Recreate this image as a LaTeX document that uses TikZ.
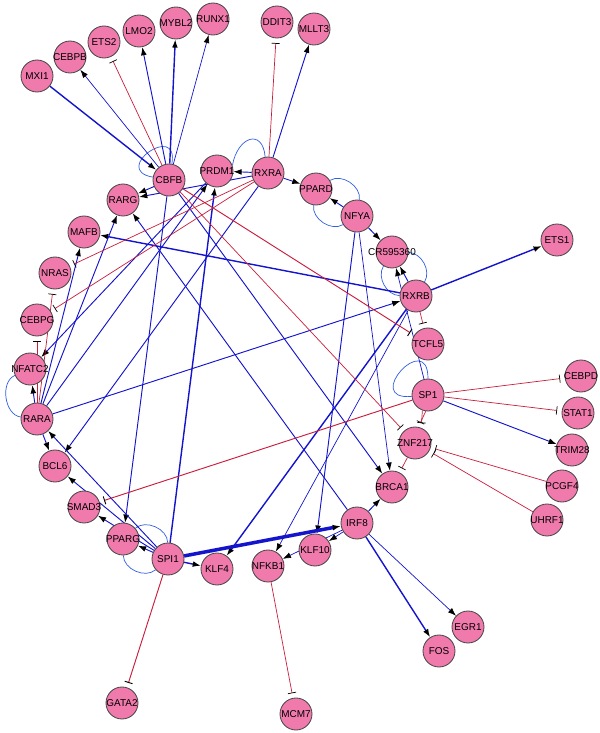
\documentclass[tikz,border=0pt]{standalone}
\usepackage{tikz}
\usepackage{xcolor}
\usepackage{fontspec}
\setmainfont{Liberation Sans}
\usetikzlibrary{arrows.meta}
\pgfdeclarelayer{bg}
\pgfsetlayers{bg,main}

\begin{document}
\begin{tikzpicture}[x=0.03cm, y=-0.03cm]

  \definecolor{my_pink}{RGB}{240,122,172}
  \definecolor{my_gray_dark}{RGB}{70,70,70}
  \definecolor{my_blue}{RGB}{20,20,205}
  \definecolor{my_blue_light}{RGB}{50,95,225}
  \definecolor{my_red}{RGB}{200,30,60}

  \tikzstyle{gene} = [circle, draw=my_gray_dark, fill=my_pink, line width=0.7pt, minimum size=0.96cm, inner sep=0pt, font=\fontsize{8.5}{9}\selectfont,
    execute at begin node={\hbox to 0pt\bgroup\hss}, execute at end node={\hss\egroup}]
  \tikzstyle{act} = [draw=my_blue, -{Latex[black,length=7pt,width=5pt]}]
  \tikzstyle{inh} = [draw=my_red, -{Bar[black,width=7pt]}, shorten >=4pt]
  \tikzstyle{curved} = [draw=my_blue_light, semithick]
  \tikzstyle{selfloop} = [curved, loop, min distance=1.3cm]

  \useasboundingbox (0,0) rectangle (600,733);

  % outer ring
  \node [gene] (mxi1) at (37,76) {MXI1};
  \node [gene] (cebpb) at (70,57) {CEBPB};
  \node [gene] (ets2) at (104,42) {ETS2};
  \node [gene] (lmo2) at (139,31) {LMO2};
  \node [gene] (mybl2) at (176,23) {MYBL2};
  \node [gene] (runx1) at (213,19) {RUNX1};
  \node [gene] (ddit3) at (277,22) {DDIT3};
  \node [gene] (mllt3) at (314,29) {MLLT3};
  \node [gene] (ets1) at (557,240) {ETS1};
  \node [gene] (cebpd) at (581,376) {CEBPD};
  \node [gene] (stat1) at (578,413) {STAT1};
  \node [gene] (trim28) at (572,450) {TRIM28};
  \node [gene] (pcgf4) at (562,486) {PCGF4};
  \node [gene] (uhrf1) at (547,520) {UHRF1};
  \node [gene] (egr1) at (468,627) {EGR1};
  \node [gene] (fos) at (439,651) {FOS};
  \node [gene] (mcm7) at (296,714) {MCM7};
  \node [gene] (gata2) at (122,703) {GATA2};

  % inner circle
  \node [gene] (cbfb) at (169,180) {CBFB};
  \node [gene] (prdm1) at (217,171) {PRDM1};
  \node [gene] (rxra) at (268,173) {RXRA};
  \node [gene] (ppard) at (316,189) {PPARD};
  \node [gene] (nfya) at (357,216) {NFYA};
  \node [gene] (cr595360) at (392,252) {CR595360};
  \node [gene] (rxrb) at (416,296) {RXRB};
  \node [gene] (tcfl5) at (428,344) {TCFL5};
  \node [gene] (sp1) at (428,395) {SP1};
  \node [gene] (znf217) at (415,443) {ZNF217};
  \node [gene] (brca1) at (392,487) {BRCA1};
  \node [gene] (irf8) at (357,523) {IRF8};
  \node [gene] (klf10) at (315,550) {KLF10};
  \node [gene] (nfkb1) at (268,566) {NFKB1};
  \node [gene] (klf4) at (217,569) {KLF4};
  \node [gene] (spi1) at (168,559) {SPI1};
  \node [gene] (pparg) at (123,539) {PPARG};
  \node [gene] (smad3) at (84,507) {SMAD3};
  \node [gene] (bcl6) at (55,466) {BCL6};
  \node [gene] (rara) at (37,419) {RARA};
  \node [gene] (nfatc2) at (30,369) {NFATC2};
  \node [gene] (cebpg) at (37,320) {CEBPG};
  \node [gene] (nras) at (55,273) {NRAS};
  \node [gene] (mafb) at (84,232) {MAFB};
  \node [gene] (rarg) at (123,200) {RARG};

  \begin{pgfonlayer}{bg}
  % loops and bent double edges
  \path (cbfb) edge [selfloop, out=170, in=80] (cbfb);
  \path (sp1) edge [selfloop, out=185, in=90, min distance=1.5cm] (sp1);
  \path [curved] (prdm1.20) to [out=80, in=95, looseness=2.2] (rxra.100);
  \path [curved] (ppard) to [bend left=65] (nfya);
  \path [curved] (ppard) to [bend right=65] (nfya);
  \path [curved] (cr595360) to [bend left=60] (rxrb);
  \path [curved] (cr595360) to [bend right=60] (rxrb);
  \path [curved] (spi1) to [bend left=65] (pparg);
  \path [curved] (spi1) to [bend right=65] (pparg);
  \path [curved] (rara) to [bend left=75] (nfatc2);

  % activation
  \path [draw, act, very thick] (mxi1) -- (cbfb);
  \path [draw, act, semithick] (cbfb) -- (cebpb);
  \path [draw, act, thick] (cbfb) -- (lmo2);
  \path [draw, act, very thick] (cbfb) -- (mybl2);
  \path [draw, act, semithick] (cbfb) -- (runx1);
  \path [draw, act, thick] (cbfb) -- (rarg);
  \path [draw, act, thick] (cbfb) -- (pparg);
  \path [draw, act, thick] (cbfb) -- (brca1);
  \path [draw, act, thick] (rxra) -- (mllt3);
  \path [draw, act, thick] (rxra) -- (ppard);
  \path [draw, act, thick] (rxra) -- (prdm1);
  \path [draw, act, thick] (rxra) -- (rarg);
  \path [draw, act, thick] (rxra) -- (bcl6);
  \path [draw, act, thick] (nfya) -- (ppard);
  \path [draw, act, thick] (nfya) -- (cr595360);
  \path [draw, act, thick] (nfya) -- (klf10);
  \path [draw, act, semithick] (nfya) -- (brca1);
  \path [draw, act, thick] (rxrb) -- (cr595360);
  \path [draw, act, semithick] (sp1) -- (cr595360);
  \path [draw, act, very thick] (rxrb) -- (ets1);
  \path [draw, act, very thick] (rxrb) -- (mafb);
  \path [draw, act, very thick] (rxrb) -- (klf4);
  \path [draw, act, semithick] (rxrb) -- (nfkb1);
  \path [draw, act, thick] (rara) -- (rxrb);
  \path [draw, act, thick] (sp1) -- (trim28);
  \path [draw, act, thick] (irf8) -- (brca1);
  \path [draw, act, semithick] (irf8) -- (egr1);
  \path [draw, act, very thick] (irf8) -- (fos);
  \path [draw, act, semithick] (irf8) -- (klf10);
  \path [draw, act, semithick] (irf8) -- (nfkb1);
  \path [draw, act, thick] (irf8) -- (rarg);
  \path [draw, act, line width=3pt] (spi1) -- (irf8);
  \path [draw, act, very thick] (spi1) -- (klf4);
  \path [draw, act, very thick] (spi1) -- (prdm1);
  \path [draw, act, thick] (spi1) -- (pparg);
  \path [draw, act, thick] (spi1) -- (smad3);
  \path [draw, act, thick] (spi1) -- (bcl6);
  \path [draw, act, thick] (spi1) -- (rara);
  \path [draw, act, thick] (rara) -- (rarg);
  \path [draw, act, thick] (rara) -- (mafb);
  \path [draw, act, thick] (rara) -- (nfatc2);
  \path [draw, act, thick] (rara) -- (bcl6);
  \path [draw, act, thick] (rara) -- (prdm1);
  \path [draw, act, thick] (prdm1) -- (nfatc2);

  % inhibition
  \path [draw, inh, semithick] (cbfb) -- (ets2);
  \path [draw, inh, thick] (cbfb) -- (tcfl5);
  \path [draw, inh, semithick] (cbfb) -- (znf217);
  \path [draw, inh, semithick] (rxra) -- (ddit3);
  \path [draw, inh, semithick] (rxra) -- (nras);
  \path [draw, inh, semithick] (rxra) -- (cebpg);
  \path [draw, inh, semithick] (rara) -- (nras);
  \path [draw, inh, semithick] (rara) -- (cebpg);
  \path [draw, inh, semithick] (rxrb) -- (tcfl5);
  \path [draw, inh, semithick] (sp1) -- (cebpd);
  \path [draw, inh, semithick] (sp1) -- (stat1);
  \path [draw, inh, thick] (sp1) -- (smad3);
  \path [draw, inh, semithick] (sp1.250) -- (znf217.68);
  \path [draw, inh, semithick] (sp1.262) -- (znf217.78);
  \path [draw, inh, semithick] (znf217) -- (brca1);
  \path [draw, inh, semithick] (pcgf4) -- (znf217);
  \path [draw, inh, semithick] (uhrf1) -- (znf217);
  \path [draw, inh, thick] (spi1) -- (gata2);
  \path [draw, inh, semithick] (nfkb1) -- (mcm7);
  \end{pgfonlayer}

\end{tikzpicture}
\end{document}
